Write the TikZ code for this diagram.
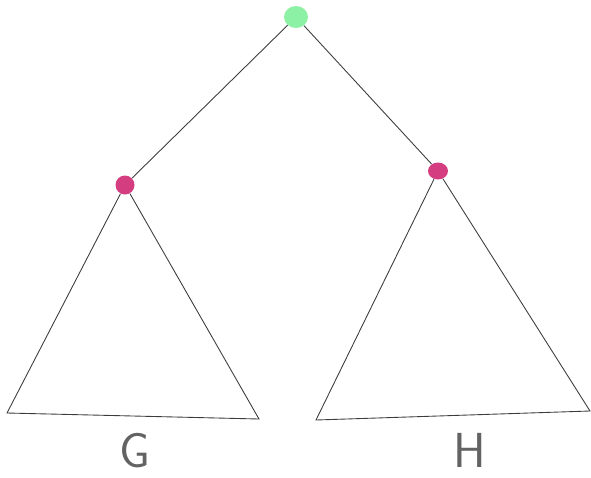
\documentclass[tikz,border=0pt]{standalone}
\usepackage{xcolor}
\usepackage{tikz}
\usetikzlibrary{shapes.geometric, positioning, calc}
\definecolor{rootgreen}{RGB}{140,240,165}
\definecolor{subpink}{RGB}{212,62,128}
\definecolor{edgegray}{RGB}{60,60,60}
\tikzset{
  rt/.style={ellipse, fill=rootgreen, draw=none, minimum width=24*0.02cm, minimum height=22*0.02cm, inner sep=0pt},
  sub/.style={ellipse, fill=subpink, draw=none, minimum width=19*0.02cm, minimum height=19*0.02cm, inner sep=0pt},
  link/.style={draw=edgegray, line width=0.5pt, line join=miter},
  lbl/.style={font=\sffamily\fontsize{28}{30}\selectfont, text=edgegray!80, inner sep=0pt, anchor=base}
}
\begin{document}
\begin{tikzpicture}[x=0.02cm, y=-0.02cm]
  \useasboundingbox (0,0) rectangle (591,477);
  \node[rt] (root) at (296,17) {};
  \node[sub] (gnode) at (125,185) {};
  \node[sub, minimum height=17*0.02cm, minimum width=20*0.02cm] (hnode) at (438,171) {};
  \coordinate (gl) at (7,413);
  \coordinate (gr) at (259,419);
  \coordinate (hl) at (316,420);
  \coordinate (hr) at (590,411);
  \draw[link] (root) -- (gnode);
  \draw[link] (root) -- (hnode);
  \draw[link] (gnode) -- (gl) -- (gr) -- (gnode);
  \draw[link] (hnode) -- (hl) -- (hr) -- (hnode);
  \node[lbl] (glbl) at (135,467) {G};
  \node[lbl] (hlbl) at (470,467) {H};
\end{tikzpicture}
\end{document}
